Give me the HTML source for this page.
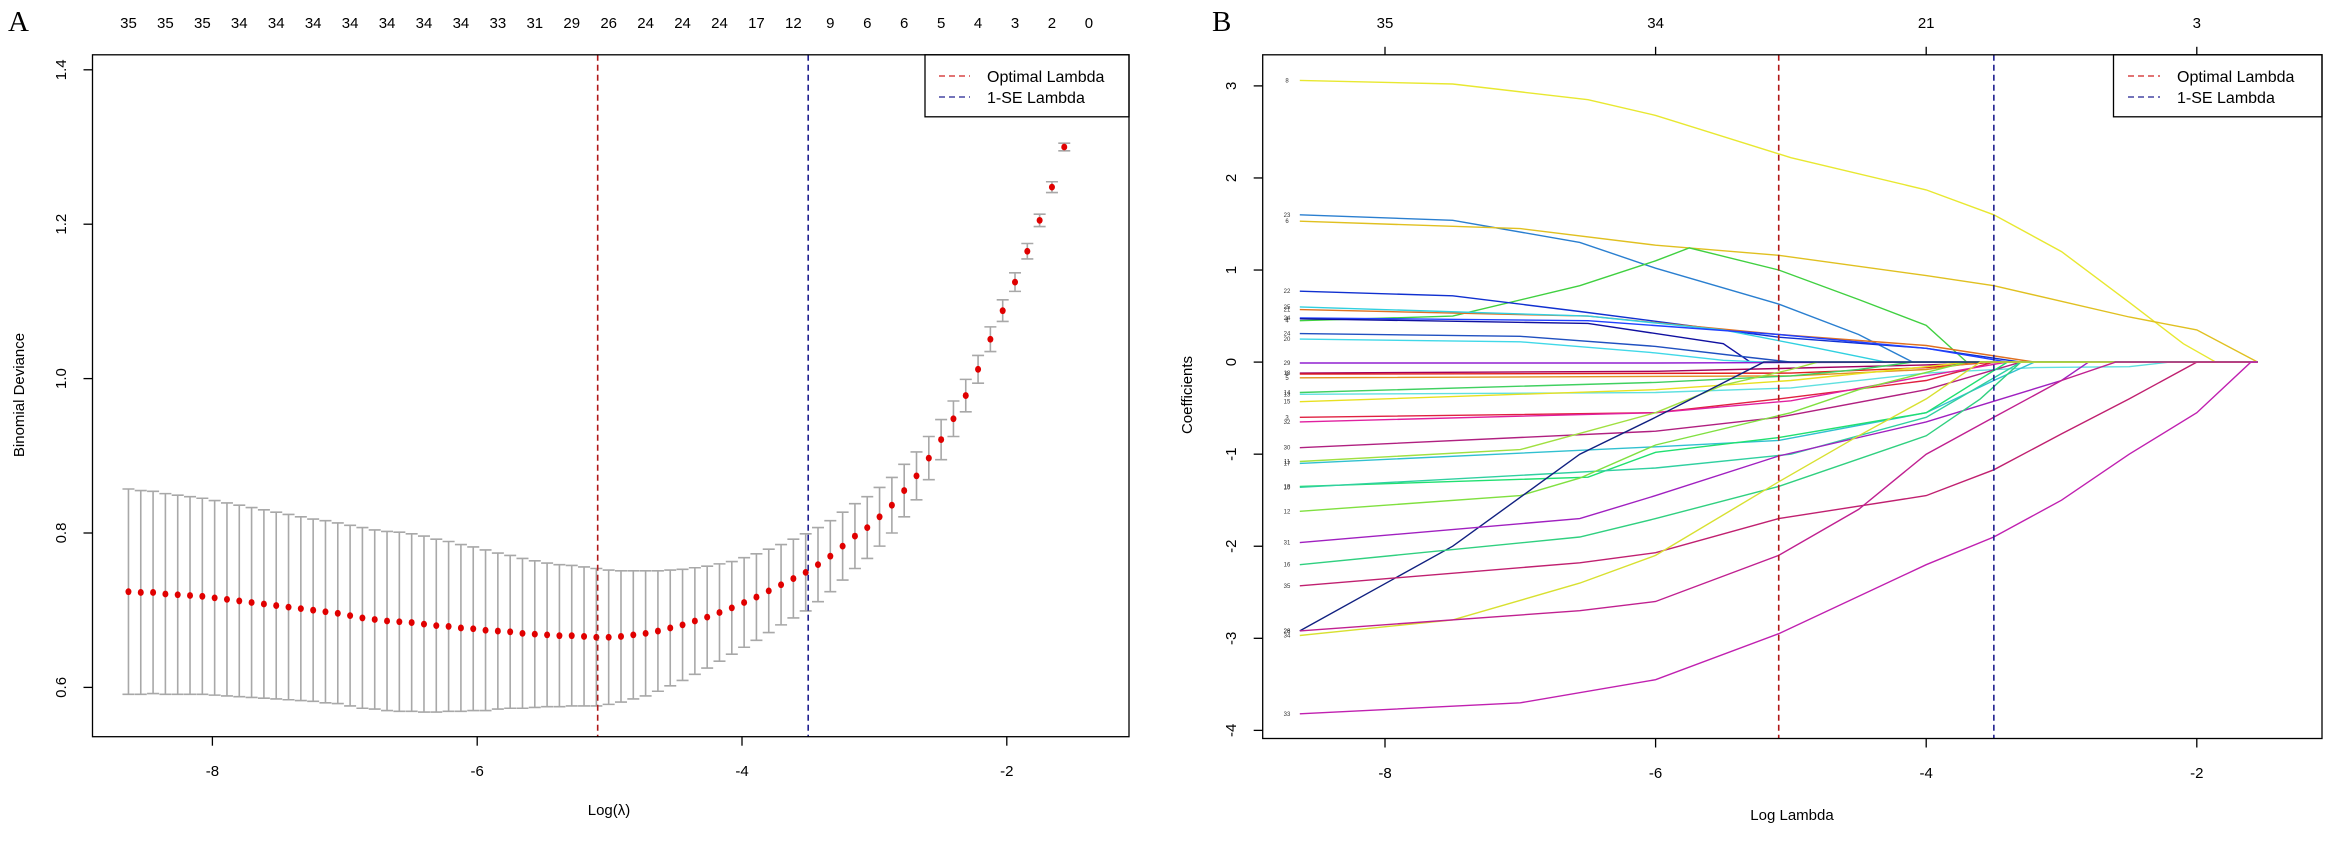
<!DOCTYPE html>
<html><head><meta charset="utf-8"><style>
html,body{margin:0;padding:0;background:#fff;}
svg{display:block;font-family:"Liberation Sans",Arial,sans-serif;}
</style></head><body>
<svg id="chart" width="2330" height="842" viewBox="0 0 2330 842" xmlns="http://www.w3.org/2000/svg">
<g id="panelA"></g>
<g id="panelB"></g>
</svg>
<script>
// ---------- Panel A data ----------
const aStartLog = -8.634;
const aStepLog = 0.093;
const aDeviance = [0.724,0.723,0.723,0.721,0.720,0.719,0.718,0.716,0.714,0.712,0.710,
0.708,0.706,0.704,0.702,0.700,0.698,0.696,0.693,0.690,0.688,
0.686,0.685,0.684,0.682,0.680,0.679,0.677,0.676,0.674,0.673,0.672,
0.670,0.669,0.668,0.667,0.667,0.666,0.665,
0.665,0.666,0.668,0.670,0.673,0.677,0.681,0.686,0.691,0.697,0.703,0.710,0.717,0.725,0.733,0.741,
0.749,0.759,0.770,0.783,0.796,0.807,0.821,0.836,0.855,0.874,0.897,0.921,0.948,0.978,1.012,
1.051,1.088,1.125,1.165,1.205,1.248,1.300,1.350,1.395];
const aSE = [.133,.132,.131,.130,.129,.128,.127,.126,.125,.124,.123,
.122,.121,.120,.119,.118,.118,.117,.117,.117,.116,.116,
.116,.115,.114,.112,.110,.108,.106,.104,.101,.099,.097,
.095,.093,.092,.091,.090,.089,.087,.085,.083,.081,.078,
.075,.072,.069,.066,.063,.060,.058,.056,.054,.052,.051,
.050,.048,.046,.044,.042,.040,.038,.036,.034,.031,.028,
.026,.023,.021,.018,.016,.014,.012,.010,.008,.007,.005,.005,.004];
const aTopLabels = [35,35,35,34,34,34,34,34,34,34,33,31,29,26,24,24,24,17,12,9,6,6,5,4,3,2,0];
const aXTicks = [-8,-6,-4,-2];
const aYTicks = [0.6,0.8,1.0,1.2,1.4];
const lambdaMin = -5.09;
const lambda1se = -3.50;

// ---------- Panel B data ----------
const bXTicks = [-8,-6,-4,-2];
const bTopLabels = [35,34,21,3];
const bYTicks = [3,2,1,0,-1,-2,-3,-4];
const bNames = ["8","23","6","4","22","21","25","24","4","24","20","29","18","9","5","14","13","15","3","32","30","11","17","19","10","12","26","31","16","35","34","28","33"];
const bColors = ["#e8e830","#2a7fd0","#e0c020","#40d040","#1030d0","#e07020","#30d0e0","#2040ff","#1010a0","#2050c0","#40d8e8","#9020d0","#a00060","#e02020","#e09020","#40d060","#60e0e0","#e8e020","#e02040","#e020a0","#b02080","#a0e040","#30c0d0","#20e070","#30d0a0","#80e040","#102080","#a020c0","#30d080","#c02070","#d8e030","#c02090","#c020b0"];
const bKnotX = [
[-8.63,-7.5,-6.5,-6,-5,-4,-3.5,-3,-2.5,-2.1,-1.86],
[-8.63,-7.5,-6.56,-6,-5.09,-4.5,-4.1],
[-8.63,-7,-6,-5.09,-4,-3.5,-2.5,-2,-1.55],
[-8.63,-7.5,-6.56,-6,-5.75,-5.09,-4.5,-4,-3.7],
[-8.63,-7.5,-6.56,-5.09,-4,-3.3],
[-8.63,-6.5,-5.09,-4,-3.2],
[-8.63,-6.5,-5.5,-4.8,-4.3],
[-8.63,-6.5,-5.09,-4,-3.4],
[-8.63,-6.5,-5.5,-5.3],
[-8.63,-7,-6,-5.3,-5],
[-8.63,-7,-6,-5.5,-5.2],
[-8.63,-6,-4,-1.55],
[-8.63,-6,-5.09,-4,-3.4],
[-8.63,-5,-4,-3.5],
[-8.63,-5,-4,-3.6],
[-8.63,-6,-5,-4.5,-4.1],
[-8.63,-6,-5,-4,-3.2,-2.5,-2.2],
[-8.63,-6,-5,-4,-3.7],
[-8.63,-6,-5.09,-4,-3.5],
[-8.63,-6,-5,-4,-3.4],
[-8.63,-6,-5.09,-4,-3.3],
[-8.63,-7,-6,-5.5,-5,-4.8],
[-8.63,-6,-5.09,-4,-3.5,-3.2],
[-8.63,-6.5,-6,-5.09,-4,-3.4],
[-8.63,-6,-5,-4,-3.3],
[-8.63,-7,-6.56,-6,-5,-4.5,-3.7],
[-8.63,-7.5,-6.56,-6,-5.2],
[-8.63,-6.56,-6,-5.09,-4,-3,-2.8],
[-8.63,-6.56,-6,-5.09,-4,-3.6,-3.3],
[-8.63,-6.56,-6,-5.09,-4,-3.5,-3,-2.5,-2],
[-8.63,-7.5,-6.56,-6,-5.09,-4.5,-4,-3.6],
[-8.63,-6.56,-6,-5.09,-4.5,-4,-3.5,-3,-2.6],
[-8.63,-7,-6,-5.09,-4,-3.5,-3,-2.5,-2,-1.6]
];
const bKnotY = [
[3.06,3.02,2.85,2.68,2.22,1.87,1.6,1.2,0.65,0.2,0],
[1.6,1.54,1.30,1.02,0.63,0.3,0],
[1.53,1.45,1.27,1.16,0.94,0.83,0.49,0.35,0],
[0.45,0.5,0.83,1.1,1.24,1.0,0.68,0.4,0],
[0.77,0.72,0.55,0.27,0.15,0],
[0.57,0.5,0.3,0.18,0],
[0.60,0.50,0.35,0.15,0],
[0.48,0.45,0.3,0.15,0],
[0.47,0.42,0.2,0],
[0.31,0.28,0.17,0.05,0],
[0.25,0.22,0.1,0.02,0],
[-0.01,-0.01,0,0],
[-0.12,-0.1,-0.07,-0.03,0],
[-0.13,-0.12,-0.06,0],
[-0.17,-0.15,-0.08,0],
[-0.33,-0.22,-0.15,-0.08,0],
[-0.35,-0.33,-0.28,-0.12,-0.06,-0.05,0],
[-0.43,-0.3,-0.2,-0.05,0],
[-0.6,-0.55,-0.4,-0.2,0],
[-0.65,-0.55,-0.42,-0.15,0],
[-0.93,-0.75,-0.6,-0.3,0],
[-1.08,-0.95,-0.55,-0.25,-0.08,0],
[-1.1,-0.92,-0.85,-0.55,-0.2,0],
[-1.35,-1.25,-0.98,-0.82,-0.55,0],
[-1.36,-1.15,-1.0,-0.6,0],
[-1.62,-1.45,-1.26,-0.9,-0.55,-0.3,0],
[-2.92,-2.0,-1.0,-0.6,0],
[-1.96,-1.7,-1.45,-1.02,-0.65,-0.2,0],
[-2.2,-1.9,-1.7,-1.35,-0.8,-0.4,0],
[-2.43,-2.18,-2.07,-1.7,-1.45,-1.17,-0.78,-0.4,0],
[-2.97,-2.8,-2.4,-2.1,-1.3,-0.8,-0.4,0],
[-2.92,-2.7,-2.6,-2.1,-1.6,-1.0,-0.6,-0.2,0],
[-3.82,-3.7,-3.45,-2.95,-2.2,-1.9,-1.5,-1.0,-0.55,0]
];
const bEndLog = -1.55;

// ---------- helpers ----------
const NS = "http://www.w3.org/2000/svg";
function mk(parent, tag, attrs, text){
  const e = document.createElementNS(NS, tag);
  for (const k in attrs) e.setAttribute(k, attrs[k]);
  if (text !== undefined) e.textContent = text;
  parent.appendChild(e);
  return e;
}

// ---------- Panel A ----------
const A = document.getElementById('panelA');
const aL = 92.5, aT = 54.8, aR = 1129, aB = 736.7;
function ax(v){ return 212.4 + (v + 8) * 132.4; }
function ay(v){ return 687.4 - (v - 0.6) * 772; }

let el;
el = mk(A,'text',{x:8,y:31,'font-family':'Liberation Serif, serif','font-size':29,fill:'#000'},'A');



for (let i=0;i<aDeviance.length;i++){
  const x = ax(aStartLog + i*aStepLog);
  const up = ay(aDeviance[i]+aSE[i]), lo = ay(aDeviance[i]-aSE[i]);
  el = mk(A,'path',{d:`M${x},${up}V${lo}M${x-6},${up}H${x+6}M${x-6},${lo}H${x+6}`,stroke:'#a8a8a8','stroke-width':1.6,fill:'none'});
  
  
  el = mk(A,'ellipse',{cx:x,cy:ay(aDeviance[i]),rx:3,ry:3.4,fill:'#e00000'});
  
  
}
for (let i=0;i<aTopLabels.length;i++){
  el = mk(A,'text',{x:ax(aStartLog+3*i*aStepLog),y:28,'font-size':15,'text-anchor':'middle'},String(aTopLabels[i]));
  
  
}
el = mk(A,'line',{x1:ax(lambdaMin),x2:ax(lambdaMin),y1:aT,y2:aB,stroke:'#b01818','stroke-width':1.6,'stroke-dasharray':'6,4'});


el = mk(A,'line',{x1:ax(lambda1se),x2:ax(lambda1se),y1:aT,y2:aB,stroke:'#202090','stroke-width':1.6,'stroke-dasharray':'6,4'});


// legend A
el = mk(A,'g',{});


mk(el,'rect',{x:925,y:aT,width:aR-925,height:62,fill:'#fff',stroke:'#000','stroke-width':1.3});
mk(el,'line',{x1:939,x2:970,y1:76,y2:76,stroke:'#d02020','stroke-width':1.3,'stroke-dasharray':'6,4'});
mk(el,'line',{x1:939,x2:970,y1:97,y2:97,stroke:'#202090','stroke-width':1.3,'stroke-dasharray':'6,4'});
mk(el,'text',{x:987,y:82,'font-size':16},'Optimal Lambda');
mk(el,'text',{x:987,y:103,'font-size':16},'1-SE Lambda');
el = mk(A,'rect',{x:aL,y:aT,width:aR-aL,height:aB-aT,fill:'none',stroke:'#000','stroke-width':1.3});


for (const t of aXTicks){
  mk(A,'line',{x1:ax(t),x2:ax(t),y1:aB,y2:aB+9,stroke:'#000','stroke-width':1.3});
  el = mk(A,'text',{x:ax(t),y:776,'font-size':15,'text-anchor':'middle'},String(t));
  
  
}
for (const t of aYTicks){
  mk(A,'line',{x1:aL,x2:aL-9,y1:ay(t),y2:ay(t),stroke:'#000','stroke-width':1.3});
  el = mk(A,'text',{x:0,y:0,'font-size':15,'text-anchor':'middle',transform:`translate(66,${ay(t)}) rotate(-90)`},t.toFixed(1));
  
  
}
el = mk(A,'text',{x:609,y:815,'font-size':15,'text-anchor':'middle'},'Log(λ)');


el = mk(A,'text',{x:0,y:0,'font-size':15,'text-anchor':'middle',transform:'translate(24,395) rotate(-90)'},'Binomial Deviance');



// ---------- Panel B ----------
const B = document.getElementById('panelB');
const bL = 1262.7, bT = 54.8, bR = 2322, bB = 738.5;
function bx(v){ return 1385 + (v + 8) * 135.3; }
function by(v){ return 362.1 - v * 92.07; }
el = mk(B,'text',{x:1212,y:31,'font-family':'Liberation Serif, serif','font-size':29},'B');



for (let s=0;s<bKnotX.length;s++){
  const xs = bKnotX[s], ys = bKnotY[s];
  let pts = xs.map((v,i)=>`${bx(v).toFixed(1)},${by(ys[i]).toFixed(1)}`);
  if (xs[xs.length-1] < bEndLog) pts.push(`${bx(bEndLog).toFixed(1)},${by(0).toFixed(1)}`);
  el = mk(B,'polyline',{points:pts.join(' '),fill:'none',stroke:bColors[s],'stroke-width':1.4});
  
  
  el = mk(B,'text',{x:1287,y:by(ys[0])+2,'font-size':6,'text-anchor':'middle',fill:'#333'},bNames[s]);
  
  
}
el = mk(B,'line',{x1:bx(lambdaMin),x2:bx(lambdaMin),y1:bT,y2:bB,stroke:'#b01818','stroke-width':1.6,'stroke-dasharray':'6,4'});


el = mk(B,'line',{x1:bx(lambda1se),x2:bx(lambda1se),y1:bT,y2:bB,stroke:'#202090','stroke-width':1.6,'stroke-dasharray':'6,4'});


el = mk(B,'g',{});


mk(el,'rect',{x:2113.5,y:bT,width:bR-2113.5,height:62,fill:'#fff',stroke:'#000','stroke-width':1.3});
mk(el,'line',{x1:2128,x2:2160,y1:76,y2:76,stroke:'#d02020','stroke-width':1.3,'stroke-dasharray':'6,4'});
mk(el,'line',{x1:2128,x2:2160,y1:97,y2:97,stroke:'#202090','stroke-width':1.3,'stroke-dasharray':'6,4'});
mk(el,'text',{x:2177,y:82,'font-size':16},'Optimal Lambda');
mk(el,'text',{x:2177,y:103,'font-size':16},'1-SE Lambda');
el = mk(B,'rect',{x:bL,y:bT,width:bR-bL,height:bB-bT,fill:'none',stroke:'#000','stroke-width':1.3});


for (let i=0;i<bXTicks.length;i++){
  const t = bXTicks[i];
  mk(B,'line',{x1:bx(t),x2:bx(t),y1:bB,y2:bB+9,stroke:'#000','stroke-width':1.3});
  mk(B,'line',{x1:bx(t),x2:bx(t),y1:bT,y2:bT-8,stroke:'#000','stroke-width':1.3});
  el = mk(B,'text',{x:bx(t),y:778,'font-size':15,'text-anchor':'middle'},String(t));
  
  
  el = mk(B,'text',{x:bx(t),y:28,'font-size':15,'text-anchor':'middle'},String(bTopLabels[i]));
  
  
}
for (const t of bYTicks){
  mk(B,'line',{x1:bL,x2:bL-9,y1:by(t),y2:by(t),stroke:'#000','stroke-width':1.3});
  el = mk(B,'text',{x:0,y:0,'font-size':15,'text-anchor':'middle',transform:`translate(1236,${by(t)}) rotate(-90)`},String(t));
  
  
}
el = mk(B,'text',{x:1792,y:820,'font-size':15,'text-anchor':'middle'},'Log Lambda');


el = mk(B,'text',{x:0,y:0,'font-size':15,'text-anchor':'middle',transform:'translate(1192,395) rotate(-90)'},'Coefficients');


</script>
</body></html>
